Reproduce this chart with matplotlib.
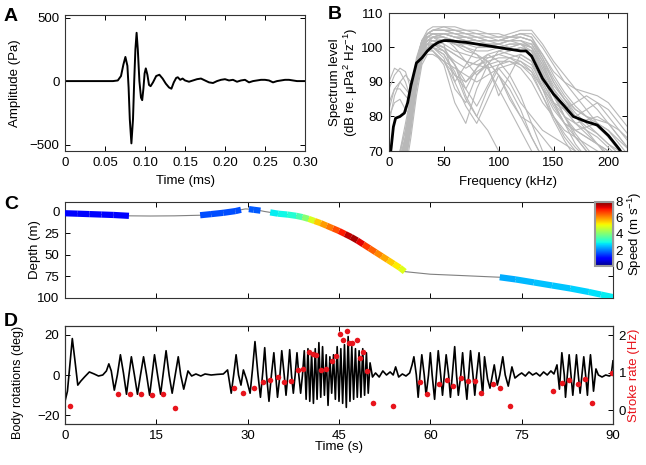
import numpy as np
import matplotlib
matplotlib.use("Agg")
import matplotlib.pyplot as plt
from matplotlib.collections import LineCollection

plt.rcParams['font.family'] = ['Liberation Sans', 'DejaVu Sans']
plt.rcParams['mathtext.default'] = 'regular'
plt.rcParams['font.size'] = 9.5

# ---------- A: click waveform ----------
wave_t = [0, 0.060, 0.066, 0.070, 0.073, 0.0755, 0.078, 0.0795, 0.081, 0.083, 0.085,
          0.0865, 0.088, 0.0895, 0.091, 0.093, 0.095, 0.0965, 0.098, 0.0995, 0.101,
          0.103, 0.105, 0.107, 0.110, 0.114, 0.118, 0.122, 0.126, 0.130, 0.133, 0.136,
          0.139, 0.141, 0.144, 0.147, 0.150, 0.155, 0.160, 0.165, 0.170, 0.175, 0.180,
          0.185, 0.190, 0.195, 0.200, 0.205, 0.210, 0.215, 0.220, 0.225, 0.230, 0.235,
          0.240, 0.245, 0.250, 0.255, 0.260, 0.265, 0.270, 0.275, 0.280, 0.290, 0.300]
wave_pa = [0, 0, 5, 40, 130, 190, 120, -50, -300, -490, -300,
           0, 250, 380, 250, 0, -130, -150, -60, 60, 100,
           50, -30, -40, -10, 40, 50, 20, -20, -50, -60, -10,
           25, 30, 10, 20, 5, -5, 5, 15, 20, 5, -10,
           -15, 0, 10, 15, 5, 10, -5, 5, 10, -10, 0,
           5, 10, 10, 5, -10, 0, 5, 10, 10, 0, 0]

# ---------- B: spectra ----------
freq = [0, 5, 10, 15, 20, 25, 30, 35, 40, 50, 60, 70, 80, 90, 100, 110, 120, 130,
        140, 150, 160, 170, 180, 190, 200, 210, 220]
spectra = [
    [60, 60, 65, 70, 80, 92, 101, 104, 105, 106, 106, 105, 105, 104, 104, 103, 104, 104, 100, 95, 90, 86, 82, 78, 74, 70, 66],
    [60, 62, 70, 78, 86, 96, 102, 104, 105, 105, 104, 104, 103, 103, 102, 103, 104, 103, 97, 90, 85, 80, 76, 72, 68, 62, 60],
    [88, 92, 94, 93, 88, 92, 99, 102, 103, 104, 103, 102, 101, 100, 101, 102, 102, 100, 94, 88, 84, 80, 77, 75, 72, 70, 68],
    [60, 60, 62, 68, 78, 90, 98, 101, 103, 104, 104, 103, 102, 102, 101, 100, 101, 101, 95, 87, 80, 74, 70, 66, 62, 60, 60],
    [60, 64, 70, 76, 85, 94, 100, 102, 103, 101, 90, 95, 100, 101, 100, 99, 100, 99, 92, 84, 78, 72, 68, 64, 60, 60, 60],
    [60, 60, 66, 74, 82, 92, 98, 100, 99, 95, 84, 78, 88, 95, 86, 92, 98, 96, 88, 80, 74, 70, 66, 62, 60, 60, 60],
    [78, 86, 90, 92, 90, 94, 100, 103, 104, 104, 103, 102, 102, 101, 101, 102, 101, 98, 90, 84, 80, 78, 79, 80, 78, 74, 70],
    [60, 60, 64, 70, 80, 92, 100, 102, 103, 103, 102, 100, 98, 94, 88, 82, 76, 70, 64, 60, 60, 60, 60, 60, 60, 60, 60],
    [60, 62, 68, 74, 84, 94, 99, 101, 100, 98, 92, 88, 94, 98, 96, 92, 86, 78, 70, 64, 60, 60, 60, 60, 60, 60, 60],
    [60, 60, 64, 70, 80, 92, 100, 103, 104, 104, 103, 103, 102, 102, 102, 103, 103, 102, 98, 93, 90, 88, 87, 86, 84, 80, 76],
    [82, 88, 90, 88, 86, 92, 100, 102, 102, 100, 95, 90, 94, 97, 98, 97, 95, 93, 88, 84, 82, 84, 86, 84, 80, 76, 72],
    [60, 60, 62, 66, 76, 88, 96, 99, 100, 99, 95, 86, 80, 88, 94, 90, 84, 80, 76, 74, 72, 70, 68, 66, 64, 62, 60],
    [60, 60, 64, 70, 82, 94, 101, 104, 105, 105, 105, 104, 104, 103, 103, 104, 105, 105, 101, 96, 92, 88, 85, 82, 78, 74, 70],
    [60, 60, 62, 68, 78, 90, 97, 99, 100, 97, 88, 84, 92, 96, 92, 85, 80, 78, 74, 70, 68, 66, 64, 62, 60, 60, 60],
    [90, 94, 93, 90, 85, 90, 98, 100, 101, 100, 98, 96, 95, 94, 95, 96, 94, 90, 84, 80, 76, 74, 72, 70, 68, 66, 64],
    [60, 60, 66, 72, 84, 95, 100, 101, 99, 96, 90, 83, 78, 85, 92, 88, 82, 74, 68, 62, 60, 60, 60, 60, 60, 60, 60],
    [60, 62, 68, 74, 84, 96, 102, 104, 104, 104, 103, 103, 102, 102, 102, 102, 103, 102, 97, 91, 86, 82, 80, 78, 76, 72, 68],
    [60, 60, 60, 64, 74, 86, 95, 98, 98, 96, 94, 92, 90, 92, 94, 95, 96, 94, 88, 82, 78, 76, 74, 72, 70, 68, 66],
    [60, 60, 64, 70, 80, 93, 100, 103, 104, 103, 101, 99, 98, 96, 92, 86, 80, 74, 68, 64, 60, 60, 60, 60, 60, 60, 60],
    [80, 84, 85, 82, 80, 90, 99, 102, 103, 103, 102, 101, 100, 100, 100, 101, 101, 99, 92, 86, 82, 80, 82, 84, 82, 78, 74],
    [60, 60, 62, 68, 80, 92, 99, 101, 101, 99, 95, 88, 83, 89, 95, 97, 98, 96, 90, 84, 78, 74, 70, 66, 62, 60, 60],
    [60, 62, 66, 72, 82, 94, 101, 104, 105, 105, 104, 103, 103, 102, 102, 102, 102, 100, 93, 86, 80, 76, 74, 72, 70, 68, 66],
    [60, 60, 63, 70, 82, 94, 100, 102, 102, 101, 99, 98, 97, 97, 98, 99, 100, 99, 93, 86, 80, 75, 71, 67, 63, 60, 60],
    [60, 61, 66, 73, 84, 96, 102, 105, 106, 106, 105, 104, 103, 102, 102, 103, 104, 103, 98, 92, 87, 83, 80, 77, 74, 70, 66],
    [60, 60, 62, 67, 77, 89, 97, 100, 101, 100, 98, 96, 95, 96, 97, 97, 96, 93, 86, 79, 73, 68, 64, 60, 60, 60, 60],
    [84, 88, 88, 86, 84, 91, 98, 101, 102, 102, 101, 100, 99, 99, 100, 101, 101, 100, 95, 89, 85, 82, 80, 79, 78, 76, 73],
    [60, 60, 65, 72, 83, 94, 100, 103, 104, 103, 100, 96, 92, 95, 99, 100, 101, 100, 94, 87, 82, 78, 75, 72, 69, 66, 63],
    [60, 60, 64, 71, 81, 93, 99, 101, 101, 99, 96, 94, 96, 98, 99, 98, 97, 95, 89, 83, 78, 76, 77, 78, 76, 73, 70],
    [60, 62, 67, 74, 85, 96, 101, 103, 103, 102, 101, 101, 101, 101, 101, 102, 102, 101, 96, 90, 85, 81, 78, 75, 72, 69, 66],
    [60, 60, 63, 69, 79, 91, 97, 99, 99, 96, 92, 90, 93, 95, 96, 96, 95, 92, 86, 80, 75, 71, 68, 65, 62, 60, 60],
    [60, 60, 62, 68, 78, 91, 98, 100, 100, 98, 93, 85, 80, 76, 70, 64, 60, 60, 60, 60, 60, 60, 60, 60, 60, 60, 60],
    [60, 63, 69, 76, 86, 97, 102, 104, 105, 105, 105, 105, 104, 104, 103, 103, 103, 102, 96, 88, 82, 78, 76, 74, 71, 68, 65],
]
mean_f = [0, 2, 4, 6, 10, 14, 17, 20, 25, 30, 35, 40, 45, 50, 55, 60, 70, 80, 90, 100,
          110, 120, 125, 130, 140, 150, 160, 168, 180, 190, 200, 210, 214]
mean_db = [66, 71, 77, 79.5, 80, 81, 84, 89, 95.5, 97, 99, 100.5, 101.5, 102, 102, 101.8,
           101.5, 101, 100.5, 100, 99.5, 99, 99, 97.5, 91, 86.5, 83, 80, 78.5, 77.5, 74.5,
           70.5, 68.5]

# ---------- C: dive track ----------
trk_t = [0, 2, 4, 6, 8, 10.5, 14, 18, 22.2, 24, 26, 28, 28.9, 29.6, 30.2, 31, 32.1, 32.8,
         33.7, 35, 36.5, 38, 39, 40, 41, 42, 43, 44, 45, 46, 47, 48, 49, 50, 51, 52, 53,
         54, 55, 55.8, 60, 65, 71.4, 74, 77, 80, 83, 86, 88, 90]
trk_depth = [2, 2.5, 3, 3.5, 4, 5, 5.2, 5, 4.3, 3, 1.5, -0.5, -2, -3, -2.8, -2, -1, 0,
             1, 2.5, 3.5, 5, 6.5, 8.5, 11, 13.5, 16.5, 19.5, 22.5, 26, 29.5, 33.5, 38,
             42.5, 47, 51.5, 56, 60.5, 65, 69.5, 72.5, 74, 76, 78.5, 82, 85.5, 89, 93, 96, 99]
trk_speed = [1.0, 1.0, 1.0, 1.0, 1.0, 1.0, np.nan, np.nan, 1.6, 1.6, 1.6, 1.6, 1.6, np.nan,
             1.7, 1.7, 1.7, np.nan, 2.8, 2.9, 3.0, 3.3, 3.7, 4.5, 5.3, 5.8, 6.1, 6.4, 6.8,
             7.3, 7.8, 7.6, 7.0, 6.6, 6.3, 6.0, 5.7, 5.4, 5.1, 4.8, np.nan, np.nan, 2.3,
             2.4, 2.5, 2.5, 2.6, 2.7, 2.8, 2.9]

# ---------- D: body rotations and stroke rate ----------
rot_t = [0.0, 0.4, 0.8, 1.2, 1.6, 2.1, 2.6, 3.2, 4.0, 4.8, 5.5, 6.2, 6.8, 7.2, 7.6, 8.1,
         8.6, 9.1, 9.6, 10.1, 10.5, 10.9, 11.4, 11.9, 12.4, 12.9, 13.4, 13.9, 14.3, 14.7,
         15.2, 15.7, 16.1, 16.6, 17.1, 17.6, 18.1, 18.6, 19.0, 19.5, 20.2, 20.8, 21.5,
         22.3, 23.0, 24.0, 25.0, 26.0, 26.7, 27.3, 27.7, 28.1, 28.5, 28.9, 29.3, 29.8,
         30.4, 30.8, 31.2, 31.7, 32.1, 32.5, 32.8, 33.1, 33.5, 33.9, 34.3, 34.6, 34.9,
         35.3, 35.6, 36.0, 36.3, 36.6, 36.9, 37.2, 37.5, 37.8, 38.1, 38.4, 38.7, 39.0,
         39.3, 39.6, 39.9, 40.2, 40.5, 40.8, 41.1, 41.4, 41.7, 42.0, 42.3, 42.6, 42.9,
         43.2, 43.5, 43.8, 44.1, 44.4, 44.7, 45.0, 45.3, 45.6, 45.9, 46.2, 46.5, 46.8,
         47.1, 47.4, 47.7, 48.0, 48.3, 48.6, 48.9, 49.2, 49.5, 49.8, 50.1, 50.5, 51.0,
         51.6, 52.2, 52.8, 53.4, 53.9, 54.3, 54.8, 55.4, 56.0, 56.6, 57.0, 57.3, 57.7,
         58.0, 58.3, 58.6, 59.0, 59.3, 59.7, 60.0, 60.3, 60.7, 61.0, 61.3, 61.7, 62.0,
         62.3, 62.6, 63.0, 63.3, 63.6, 64.0, 64.3, 64.6, 65.0, 65.3, 65.6, 66.0, 66.3,
         66.6, 67.0, 67.3, 67.6, 68.0, 68.3, 68.6, 68.9, 69.4, 69.8, 70.2, 70.5, 71.0,
         71.4, 71.9, 72.3, 72.8, 73.4, 73.9, 74.5, 75.0, 75.6, 76.2, 76.8, 77.4, 78.0,
         78.6, 79.2, 79.8, 80.3, 80.8, 81.2, 81.6, 82.0, 82.2, 82.5, 82.8, 83.1, 83.4,
         83.7, 84.0, 84.3, 84.6, 84.9, 85.2, 85.5, 85.8, 86.0, 86.3, 86.6, 86.8, 87.2,
         87.6, 88.2, 88.8, 89.4, 89.7, 90.0]
rot_deg = [-13, -8, 5, 18, 8, -5, -3, -1, 1.5, 0.5, -0.5, 0, 2, 5.5, 2, -7.5,
           0, 10, 1, -9.5, 0, 9, 0, -9.5, 0, 9, 0, -10, 0, 10,
           0, -9.5, 0, 12, 0, -9, 0, 9, 0, -7, 2, -0.5, 0.5,
           -0.5, 0.5, 0, 0.3, 0.5, 2.5, -9, 0, 10, 0, -5, 2.5, -2,
           -9, 3, 16.5, 0, -11, 2, 13.5, 0, -13, 0, 11, 0, -11,
           0, 12, 0, -10, 0, 12.5, 0, -9, 0, 11, 0, -9, 0,
           12, -12, 13, -13, 11, -14, 13, -12, 16, -11, 14, -10, 10,
           -15, 9, -9, 10, -12, 14, -13, 13, -14, 15, -16, 19, -13,
           14, -12, 13, -11, 12, -11, 13, -10, 11, -9, 6, -1, 1,
           -1, 2, 0, 1.5, 0, 4, -1, 0.5, -0.5, 1, 5, 9, 0,
           -11, 0, 10, 0, -10, 0, 11, 0, -12, 0, 12, 0, -10,
           0, 10, 0, -11, 0, 14, 0, -10, 0, 11, 0, -12, 0,
           12, 0, -10, 0, 11, 0, -10, 9, -2, -6.5, 0, 5, -5,
           0, 9, 0, -5.5, 4, -1.5, 0, 1, -0.5, 1.5, 0, 1, -0.5,
           1.5, 0, 2, 0.5, 5, -7, 11, 0, -11, 0, 10, 0, -10,
           0, 10, 0, -9, 0, 9, 0, -10, 0, 10, 0, -8, 3,
           0, -1, 0, -0.5, 0, 7]
stroke_t = [0.8, 8.65, 10.6, 12.4, 14.3, 16.1, 18.0, 27.8, 29.3, 31.0, 32.6, 33.7, 34.9,
            35.9, 37.1, 38.3, 39.1, 40.1, 40.7, 41.2, 42.0, 42.9, 43.8, 44.5, 45.2, 45.7,
            46.3, 46.7, 47.2, 47.9, 48.4, 49.0, 49.6, 50.6, 53.9, 58.3, 59.4, 61.4, 62.7,
            63.7, 65.1, 66.2, 67.3, 68.4, 70.3, 71.4, 73.1, 80.1, 81.6, 82.8, 84.2, 85.4,
            86.6, 89.9]
stroke_hz = [0.1, 0.43, 0.42, 0.43, 0.4, 0.43, 0.05, 0.58, 0.45, 0.6, 0.76, 0.8, 0.87,
             0.76, 0.78, 1.07, 1.1, 1.55, 1.5, 1.48, 1.07, 1.09, 1.32, 1.45, 2.03, 1.87,
             2.1, 1.8, 1.8, 1.87, 1.39, 1.55, 1.03, 0.19, 0.1, 0.76, 0.43, 0.7, 0.8,
             0.65, 0.86, 0.78, 0.78, 0.45, 0.7, 0.6, 0.1, 0.5, 0.72, 0.8, 0.7, 0.82,
             0.2, 1.0]

W, H = 646, 465


def box(l, t, r, b):
    return [l / W, 1 - b / H, (r - l) / W, (b - t) / H]


def matlab_style(ax, right=True):
    ax.tick_params(direction='in', top=True, right=right, length=3.5, width=0.7,
                   labelsize=9.5, pad=4)
    for s in ax.spines.values():
        s.set_linewidth(0.8)
        s.set_color('#333333')


fig = plt.figure(figsize=(6.46, 4.65), dpi=100)

# A
axA = fig.add_axes(box(65, 15, 305, 151))
axA.plot(wave_t, wave_pa, color='black', lw=1.4)
axA.set_xlim(0, 0.30)
axA.set_ylim(-550, 520)
axA.set_xticks([0, 0.05, 0.10, 0.15, 0.20, 0.25, 0.30])
axA.set_xticklabels(['0', '0.05', '0.10', '0.15', '0.20', '0.25', '0.30'])
axA.set_yticks([-500, 0, 500])
axA.set_yticklabels(['\u2212500', '0', '500'])
axA.set_xlabel('Time (ms)')
axA.set_ylabel('Amplitude (Pa)')
matlab_style(axA)
axA.yaxis.set_label_coords(-0.185, 0.5)
axA.xaxis.set_label_coords(0.5, -0.18)

# B
axB = fig.add_axes(box(389, 13, 627, 151))
for s in spectra:
    axB.plot(freq, s, color='#b8b8b8', lw=0.8)
axB.plot(mean_f, mean_db, color='black', lw=2)
axB.set_xlim(0, 217)
axB.set_ylim(70, 110)
axB.set_xticks([0, 50, 100, 150, 200])
axB.set_yticks([70, 80, 90, 100, 110])
axB.set_xlabel('Frequency (kHz)')
axB.set_ylabel('Spectrum level\n(dB re. \u03bcPa$^2$ Hz$^{-1}$)', linespacing=1.1)
matlab_style(axB)
axB.yaxis.set_label_coords(-0.12, 0.5)
axB.xaxis.set_label_coords(0.5, -0.18)

# C
axC = fig.add_axes(box(65, 202, 613, 298))
axC.plot(trk_t, trk_depth, color='#808080', lw=0.8, zorder=2)
tt = np.array(trk_t)
dd = np.array(trk_depth)
sp = np.array(trk_speed)
segs, cols = [], []
for i in range(len(tt) - 1):
    if not (np.isnan(sp[i]) or np.isnan(sp[i + 1])):
        segs.append([(tt[i], dd[i]), (tt[i + 1], dd[i + 1])])
        cols.append((sp[i] + sp[i + 1]) / 2)
lc = LineCollection(segs, cmap='jet', norm=plt.Normalize(0, 8), lw=4.5, zorder=3)
lc.set_array(np.array(cols))
axC.add_collection(lc)
axC.set_xlim(0, 90)
axC.set_ylim(100, -11)
axC.set_yticks([0, 25, 50, 75, 100])
axC.set_xticks([0, 15, 30, 45, 60, 75, 90])
axC.set_xticklabels([])
axC.set_ylabel('Depth (m)')
matlab_style(axC)
axC.yaxis.set_label_coords(-0.043, 0.5)

cax = fig.add_axes(box(595, 202, 613, 266))
cb = fig.colorbar(lc, cax=cax)
cb.set_ticks([0, 2, 4, 6, 8])
cb.outline.set_edgecolor('#9a9a9a')
cb.outline.set_linewidth(1.5)
cax.tick_params(length=0, labelsize=9.5, pad=2)
cb.set_label('Speed (m s$^{-1}$)', fontsize=9.5, labelpad=2)

# D
axD = fig.add_axes(box(65, 326, 613, 424))
axD.plot(rot_t, rot_deg, color='black', lw=1.2)
axD.set_xlim(0, 90)
axD.set_ylim(-24.2, 24.2)
axD.set_xticks([0, 15, 30, 45, 60, 75, 90])
axD.set_yticks([-20, 0, 20])
axD.set_yticklabels(['\u221220', '0', '20'])
axD.set_xlabel('Time (s)')
axD.set_ylabel('Body rotations (deg)', fontsize=9)
matlab_style(axD, right=False)
axD.yaxis.set_label_coords(-0.075, 0.42)
axD.xaxis.set_label_coords(0.5, -0.175)
axD2 = axD.twinx()
axD2.plot(stroke_t, stroke_hz, 'o', color='#e8141c', ms=4, mec='none')
axD2.set_ylim(-0.373, 2.24)
axD2.set_yticks([0, 1, 2])
axD2.set_ylabel('Stroke rate (Hz)', color='#e8141c')
axD2.tick_params(direction='in', length=3.5, width=0.7, labelsize=9.5, pad=4)
axD2.yaxis.set_label_coords(1.027, 0.5)
for s in axD2.spines.values():
    s.set_linewidth(0.8)
    s.set_color('#333333')

# panel letters
for lbl, x, y in [('A', 4, 8), ('B', 328, 6), ('C', 4, 196), ('D', 4, 313)]:
    fig.text(x / W, 1 - y / H, lbl, fontsize=14, fontweight='bold', va='top', ha='left')

fig.savefig('out.png', dpi=100)
